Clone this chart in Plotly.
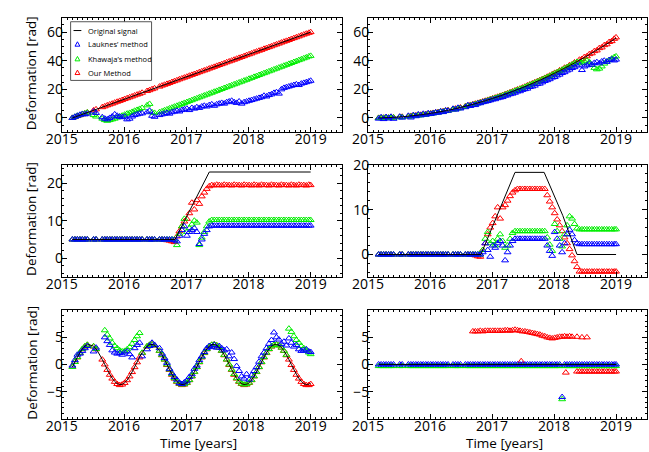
import plotly.graph_objects as go

FONT = "Open Sans"
BLUE = "#0000ff"
GREEN = "#00ee00"
RED = "#ff0000"
W, H = 649, 452

# acquisition epochs (decimal years)
epochs = [
    2015.17, 2015.21, 2015.25, 2015.29, 2015.33, 2015.37, 2015.41, 2015.51, 2015.55,
    2015.65, 2015.69, 2015.73, 2015.77, 2015.81, 2015.85, 2015.89, 2015.93, 2015.97,
    2016.01, 2016.05, 2016.09, 2016.13, 2016.17, 2016.21, 2016.25, 2016.29,
    2016.37, 2016.41, 2016.45, 2016.49,
    2016.57, 2016.61, 2016.65, 2016.69, 2016.73, 2016.77, 2016.81, 2016.85, 2016.89, 2016.93, 2016.97,
    2017.01, 2017.05, 2017.09, 2017.13, 2017.17, 2017.21, 2017.25, 2017.29, 2017.33, 2017.37,
    2017.41, 2017.45, 2017.49, 2017.53, 2017.57, 2017.61, 2017.65, 2017.69, 2017.73, 2017.77,
    2017.81, 2017.85, 2017.89, 2017.93, 2017.97,
    2018.01, 2018.05, 2018.09, 2018.13, 2018.17, 2018.21, 2018.25, 2018.29, 2018.33, 2018.37,
    2018.41, 2018.45, 2018.49, 2018.53, 2018.57, 2018.61, 2018.65, 2018.69, 2018.73, 2018.77,
    2018.81, 2018.85, 2018.89, 2018.93, 2018.97, 2019.00,
]

# ---- panel 1: linear deformation ----
p1_signal_t = [2015.17, 2019.0]
p1_signal = [0.0, 60.0]
p1_ours = [
    0.0, 0.6, 1.3, 1.9, 2.5, 3.1, 3.8, 5.3, 6.0,
    7.5, 8.1, 8.8, 9.4, 10.0, 10.7, 11.3, 11.9, 12.5, 13.2, 13.8, 14.4, 15.0, 15.7, 16.3, 16.9, 17.6,
    18.8, 19.4, 20.1, 20.7,
    21.9, 22.6, 23.2, 23.8, 24.4, 25.1, 25.7, 26.3, 27.0, 27.6, 28.2,
    28.8, 29.5, 30.1, 30.7, 31.3, 32.0, 32.6, 33.2, 33.8, 34.5, 35.1, 35.7, 36.4, 37.0, 37.6,
    38.2, 38.9, 39.5, 40.1, 40.7, 41.4, 42.0, 42.6, 43.2, 43.9,
    44.5, 45.1, 45.8, 46.4, 47.0, 47.6, 48.3, 48.9, 49.5, 50.1, 50.8, 51.4, 52.0, 52.7, 53.3,
    53.9, 54.5, 55.2, 55.8, 56.4, 57.0, 57.7, 58.3, 58.9, 59.5, 60.0,
]
p1_khawaja = [
    0.0, 0.8, 1.5, 2.0, 2.6, 3.2, 3.8, 2.0, 1.0,
    -0.5, -1.5, -2.0, -1.5, -1.0, -0.5, 0.3, 1.0, 1.6, 2.3, 3.0, 3.5, 4.2, 5.0, 5.6, 6.3, 7.0,
    8.8, 9.8, 4.0, 3.5,
    4.0, 4.6, 5.3, 5.9, 6.6, 7.2, 7.9, 8.5, 9.2, 9.8, 10.5,
    11.1, 11.8, 12.4, 13.1, 13.7, 14.4, 15.0, 15.7, 16.3, 17.0, 17.6, 18.3, 18.9, 19.6, 20.2,
    20.9, 21.5, 22.2, 22.8, 23.5, 24.1, 24.8, 25.4, 26.1, 26.7,
    27.4, 28.0, 28.7, 29.3, 30.0, 30.6, 31.3, 31.9, 32.6, 33.2, 33.9, 34.5, 35.2, 35.8, 36.5,
    37.1, 37.8, 38.4, 39.1, 39.7, 40.4, 41.0, 41.7, 42.3, 43.0, 43.4,
]
p1_lauknes = [
    0.0, 0.8, 1.5, 2.2, 2.8, 2.5, 3.0, 4.5, 3.5,
    0.5, -0.5, -1.0, 0.0, 1.0, 2.5, 1.5, 0.8, 0.5, 1.0, -1.0, -0.5, 1.0, 2.0, 2.5, 3.0, 3.2,
    4.0, 5.0, 1.5, 0.8,
    2.0, 2.5, 3.0, 3.5, 3.0, 4.0, 4.5, 5.0, 4.5, 5.5, 6.0,
    6.5, 5.5, 7.0, 6.5, 7.5, 7.0, 8.0, 8.5, 8.0, 9.0, 9.5, 8.5, 9.5, 10.0, 10.5,
    10.0, 11.0, 11.5, 12.0, 11.0, 10.5, 11.5, 10.0, 11.0, 11.5,
    12.0, 12.5, 13.0, 13.5, 14.0, 14.5, 15.5, 15.0, 16.0, 16.5, 17.5, 18.0, 17.0, 20.0, 21.0,
    21.5, 22.0, 22.5, 23.0, 23.5, 23.0, 24.0, 24.5, 25.0, 25.5, 26.0,
]

# ---- panel 2: accelerating deformation ----
p2_signal = [
    0.0, 0.0, 0.1, 0.2, 0.2, 0.3, 0.4, 0.7, 0.8,
    1.2, 1.4, 1.6, 1.8, 2.0, 2.2, 2.4, 2.7, 2.9, 3.2, 3.5, 3.8, 4.1, 4.4, 4.7, 5.1, 5.4,
    6.1, 6.5, 6.9, 7.3,
    8.2, 8.6, 9.1, 9.5, 10.0, 10.5, 11.0, 11.5, 12.0, 12.6, 13.1,
    13.7, 14.2, 14.8, 15.4, 16.0, 16.6, 17.2, 17.9, 18.5, 19.2, 19.9, 20.5, 21.2, 21.9, 22.7,
    23.4, 24.1, 24.9, 25.6, 26.4, 27.2, 28.0, 28.8, 29.6, 30.5,
    31.3, 32.2, 33.0, 33.9, 34.8, 35.7, 36.6, 37.5, 38.5, 39.4, 40.4, 41.4, 42.3, 43.3, 44.3,
    45.4, 46.4, 47.4, 48.5, 49.5, 50.6, 51.7, 52.8, 53.9, 55.0, 55.9,
]
p2_ours = [
    0.0, 0.0, 0.1, 0.2, 0.2, 0.3, 0.4, 0.7, 0.8,
    1.2, 1.4, 1.6, 1.8, 2.0, 2.2, 2.4, 2.7, 2.9, 3.2, 3.5, 3.8, 4.1, 4.4, 4.7, 5.1, 5.4,
    6.1, 6.5, 6.9, 7.3,
    8.2, 8.6, 9.1, 9.5, 10.0, 10.5, 11.0, 11.5, 12.0, 12.6, 13.1,
    13.7, 14.2, 14.8, 15.4, 16.0, 16.6, 17.2, 17.9, 18.5, 19.2, 19.9, 20.5, 21.2, 21.9, 22.7,
    23.4, 24.1, 24.9, 25.6, 26.4, 27.2, 28.0, 28.8, 29.6, 30.5,
    31.5, 32.0, 33.3, 33.7, 35.1, 35.5, 36.9, 37.3, 38.8, 39.2, 40.7, 41.2, 42.6, 43.1, 44.6,
    45.2, 46.7, 47.2, 48.8, 49.3, 50.9, 51.5, 53.1, 53.7, 55.3, 56.3,
]
p2_khawaja = [
    0.0, -0.2, 0.1, -0.1, 0.2, 0.0, 0.3, 0.4, 0.6,
    0.9, 1.1, 1.3, 1.5, 1.7, 1.9, 2.1, 2.4, 2.6, 2.9, 3.2, 3.5, 3.8, 4.1, 4.4, 4.8, 5.1,
    5.8, 6.2, 6.6, 7.0,
    7.9, 8.3, 8.8, 9.2, 9.7, 10.2, 10.7, 11.2, 11.7, 12.3, 12.8,
    13.4, 13.9, 14.5, 15.1, 15.7, 16.3, 16.9, 17.6, 18.2, 18.9, 19.6, 20.2, 20.9, 21.6, 22.4,
    23.1, 23.8, 24.6, 25.3, 26.1, 26.9, 27.7, 28.5, 29.3, 30.2,
    31.0, 31.9, 32.7, 33.6, 34.5, 35.4, 36.3, 37.2, 38.2, 39.1, 39.0, 38.5, 39.5, 40.0, 39.0,
    37.0, 35.0, 34.0, 34.5, 36.0, 38.0, 39.5, 40.5, 41.5, 42.5, 43.0,
]
p2_lauknes = [
    -0.5, 0.5, -0.8, 0.6, -0.4, 0.8, -0.6, 0.9, 0.2,
    1.5, 0.3, 2.0, 1.2, 2.5, 1.8, 2.9, 2.2, 3.3, 2.8, 3.2, 3.9, 3.6, 4.6, 4.1, 5.2, 5.0,
    6.4, 5.8, 7.1, 6.6,
    7.5, 8.9, 8.4, 9.2, 9.0, 10.1, 10.3, 11.0, 11.4, 11.8, 12.3,
    12.9, 13.1, 13.8, 14.2, 14.6, 15.5, 15.8, 16.6, 17.0, 17.6, 18.5, 18.7, 19.6, 20.1, 20.5,
    21.6, 22.0, 22.6, 23.7, 24.0, 24.9, 25.8, 26.4, 27.1, 28.2,
    28.6, 29.7, 30.3, 31.4, 32.0, 33.1, 33.8, 34.9, 35.5, 36.6, 37.3, 33.5, 36.0, 36.8, 38.0,
    37.2, 38.5, 39.0, 38.2, 39.5, 40.0, 39.2, 40.5, 41.0, 40.2, 40.8,
]

# ---- panel 3: step-like uplift ----
p3_signal_t = [2015.17, 2016.82, 2017.37, 2019.0]
p3_signal = [5.0, 5.0, 23.0, 23.0]
p3_ours = [
    5.0, 5.0, 5.0, 5.0, 5.0, 5.0, 5.0, 5.0, 5.0,
    5.0, 5.0, 5.0, 5.0, 5.0, 5.0, 5.0, 5.0, 5.0, 5.0, 5.0, 5.0, 5.0, 5.0, 5.0, 5.0, 5.0,
    5.0, 5.0, 5.0, 5.0,
    5.0, 5.0, 4.9, 4.8, 4.7, 4.5, 4.3, 5.8, 7.2, 8.5, 9.8,
    10.5, 12.0, 14.8, 13.0, 15.5, 14.5, 16.5, 17.5, 18.5, 19.2, 19.5, 19.4, 19.6, 19.5, 19.4,
    19.6, 19.5, 19.5, 19.4, 19.6, 19.5, 19.5, 19.4, 19.6, 19.5,
    19.5, 19.4, 19.6, 19.5, 19.4, 19.6, 19.5, 19.5, 19.4, 19.6, 19.5, 19.5, 19.4, 19.6, 19.5,
    19.5, 19.4, 19.6, 19.5, 19.4, 19.6, 19.5, 19.5, 19.4, 19.6, 19.5,
]
p3_khawaja = [
    5.0, 5.0, 5.0, 5.0, 5.0, 5.0, 5.0, 5.0, 5.0,
    5.0, 5.0, 5.0, 5.0, 5.0, 5.0, 5.0, 5.0, 5.0, 5.0, 5.0, 5.0, 5.0, 5.0, 5.0, 5.0, 5.0,
    5.0, 5.0, 5.0, 5.0,
    5.0, 5.0, 5.0, 5.0, 5.0, 5.0, 5.0, 3.5, 6.5, 8.5, 10.5,
    7.0, 8.0, 9.0, 10.0, 9.5, 3.5, 5.5, 7.0, 8.5, 9.8, 10.2, 10.2, 10.2, 10.2, 10.2,
    10.2, 10.2, 10.2, 10.2, 10.2, 10.2, 10.2, 10.2, 10.2, 10.2,
    10.2, 10.2, 10.2, 10.2, 10.2, 10.2, 10.2, 10.2, 10.2, 10.2, 10.2, 10.2, 10.2, 10.2, 10.2,
    10.2, 10.2, 10.2, 10.2, 10.2, 10.2, 10.2, 10.2, 10.2, 10.2, 10.2,
]
p3_lauknes = [
    5.0, 5.0, 5.0, 5.0, 5.0, 5.0, 5.0, 5.0, 5.0,
    5.0, 5.0, 5.0, 5.0, 5.0, 5.0, 5.0, 5.0, 5.0, 5.0, 5.0, 5.0, 5.0, 5.0, 5.0, 5.0, 5.0,
    5.0, 5.0, 5.0, 5.0,
    5.0, 5.0, 5.0, 5.0, 5.0, 5.0, 4.8, 4.5, 6.0, 7.5, 8.5,
    6.0, 7.0, 7.5, 8.0, 7.0, 3.8, 5.0, 6.5, 7.5, 8.5, 8.7, 8.7, 8.7, 8.7, 8.7,
    8.7, 8.7, 8.7, 8.7, 8.7, 8.7, 8.7, 8.7, 8.7, 8.7,
    8.7, 8.7, 8.7, 8.7, 8.7, 8.7, 8.7, 8.7, 8.7, 8.7, 8.7, 8.7, 8.7, 8.7, 8.7,
    8.7, 8.7, 8.7, 8.7, 8.7, 8.7, 8.7, 8.7, 8.7, 8.7, 8.7,
]

# ---- panel 4: uplift followed by subsidence ----
p4_signal_t = [2015.17, 2016.82, 2017.37, 2017.84, 2018.14, 2018.37, 2019.0]
p4_signal = [0.0, 0.0, 18.3, 18.3, 8.7, 0.0, 0.0]
p4_ours = [
    0.0, 0.0, 0.0, 0.0, 0.0, 0.0, 0.0, 0.0, 0.0,
    0.0, 0.0, 0.0, 0.0, 0.0, 0.0, 0.0, 0.0, 0.0, 0.0, 0.0, 0.0, 0.0, 0.0, 0.0, 0.0, 0.0,
    0.0, 0.0, 0.0, 0.0,
    0.0, 0.0, 0.0, 0.0, -0.2, -0.4, -0.5, 1.0, 2.5, 4.5, 6.0,
    7.0, 8.5, 10.5, 8.0, 10.5, 11.0, 12.0, 13.0, 13.8, 14.3, 14.6, 14.6, 14.6, 14.6, 14.6,
    14.6, 14.6, 14.6, 14.6, 14.6, 14.6, 14.6, 13.2, 11.8, 10.5,
    9.2, 7.8, 6.5, 5.2, 3.8, 2.5, 1.2, -0.2, -1.5, -2.8, -3.8, -3.8, -3.8, -3.8, -3.8,
    -3.8, -3.8, -3.8, -3.8, -3.8, -3.8, -3.8, -3.8, -3.8, -3.8, -3.8,
]
p4_khawaja = [
    0.0, 0.0, 0.0, 0.0, 0.0, 0.0, 0.0, 0.0, 0.0,
    0.0, 0.0, 0.0, 0.0, 0.0, 0.0, 0.0, 0.0, 0.0, 0.0, 0.0, 0.0, 0.0, 0.0, 0.0, 0.0, 0.0,
    0.0, 0.0, 0.0, 0.0,
    0.0, 0.0, 0.0, 0.0, 0.0, 0.0, 0.0, 1.0, 3.5, 5.0, 2.5,
    3.0, 2.0, 3.5, 4.5, 3.0, 1.5, 2.0, 3.5, 4.8, 5.2, 5.2, 5.2, 5.2, 5.2, 5.2,
    5.2, 5.2, 5.2, 5.2, 5.2, 5.2, 5.2, 3.8, 2.2, 0.8,
    6.8, 5.2, 3.5, 1.8, 4.5, 6.5, 8.5, 8.0, 6.8, 5.8, 5.6, 5.6, 5.6, 5.6, 5.6,
    5.6, 5.6, 5.6, 5.6, 5.6, 5.6, 5.6, 5.6, 5.6, 5.6, 5.6,
]
p4_lauknes = [
    0.0, 0.0, 0.0, 0.0, 0.0, 0.0, 0.0, 0.0, 0.0,
    0.0, 0.0, 0.0, 0.0, 0.0, 0.0, 0.0, 0.0, 0.0, 0.0, 0.0, 0.0, 0.0, 0.0, 0.0, 0.0, 0.0,
    0.0, 0.0, 0.0, 0.0,
    0.0, 0.0, 0.0, 0.0, 0.0, 0.0, 0.0, 0.5, 2.5, 1.0, -0.5,
    2.0, 1.5, 2.5, 3.0, 2.0, -1.3, 0.5, 2.0, 3.0, 3.5, 3.5, 3.5, 3.5, 3.5, 3.5,
    3.5, 3.5, 3.5, 3.5, 3.5, 3.5, 3.5, 2.0, 0.8, -0.3,
    5.0, 3.5, 2.0, 0.5, 2.5, 4.5, 5.5, 4.5, 3.2, 2.5, 2.3, 2.3, 2.3, 2.3, 2.3,
    2.3, 2.3, 2.3, 2.3, 2.3, 2.3, 2.3, 2.3, 2.3, 2.3, 2.3,
]

# ---- panel 5: seasonal deformation ----
p5_signal = [
    -0.46, 0.46, 1.36, 2.17, 2.85, 3.35, 3.63, 3.35, 2.85,
    0.92, 0.0, -0.92, -1.78, -2.53, -3.12, -3.52, -3.69, -3.63, -3.35, -2.85, -2.17, -1.36, -0.46,
    0.46, 1.36, 2.17,
    3.35, 3.63, 3.69, 3.52,
    2.53, 1.78, 0.92, 0.0, -0.92, -1.78, -2.53, -3.12, -3.52, -3.69, -3.63,
    -3.35, -2.85, -2.17, -1.36, -0.46, 0.46, 1.36, 2.17, 2.85, 3.35, 3.63, 3.69, 3.52, 3.12, 2.53,
    1.78, 0.92, 0.0, -0.92, -1.78, -2.53, -3.12, -3.52, -3.69, -3.63,
    -3.35, -2.85, -2.17, -1.36, -0.46, 0.46, 1.36, 2.17, 2.85, 3.35, 3.63, 3.69, 3.52, 3.12, 2.53,
    1.78, 0.92, 0.0, -0.92, -1.78, -2.53, -3.12, -3.52, -3.69, -3.63, -3.44,
]
p5_ours = [
    -0.4, 0.5, 1.3, 2.1, 2.8, 3.3, 3.6, 3.3, 2.8,
    0.9, 0.0, -1.0, -1.9, -2.6, -3.2, -3.6, -3.8, -3.7, -3.4, -2.9, -2.2, -1.4, -0.5,
    0.4, 1.3, 2.1,
    3.3, 3.6, 3.7, 3.5,
    2.5, 1.7, 0.9, -0.1, -1.0, -1.9, -2.6, -3.2, -3.6, -3.8, -3.7,
    -3.4, -2.9, -2.2, -1.4, -0.5, 0.4, 1.3, 2.1, 2.8, 3.3, 3.6, 3.7, 3.5, 3.1, 2.5,
    1.7, 0.9, -0.1, -1.0, -1.9, -2.6, -3.2, -3.6, -3.8, -3.7,
    -3.4, -2.9, -2.2, -1.4, -0.5, 0.4, 1.3, 2.1, 2.8, 3.3, 3.6, 3.7, 3.5, 3.1, 2.5,
    1.7, 0.9, -0.1, -1.0, -1.9, -2.6, -3.2, -3.6, -3.8, -3.8, -3.6,
]
p5_khawaja = [
    -0.46, 0.46, 1.36, 2.17, 2.85, 3.35, 3.63, 3.35, 2.85,
    None, 6.3, 5.5, 4.8, 4.0, 3.4, 3.0, 2.6, 2.4, 2.5, 2.8, 3.2, 3.8, 4.5,
    5.2, 5.8, 2.17,
    3.35, 3.63, 3.69, 3.52,
    2.53, 1.78, 0.92, 0.0, -0.92, -1.78, -2.53, -3.12, -3.52, -3.69, -3.63,
    -3.35, -2.85, -2.17, -1.36, -0.46, 0.46, 1.36, 2.17, 2.85, 3.35, 3.63, 3.69, 3.52, 3.12, 2.53,
    1.78, 0.92, 0.0, -0.92, -1.78, -2.53, -3.12, -3.52, -3.69, -3.63,
    -3.35, -2.85, -2.17, -1.36, -0.46, 0.46, 1.36, 2.17, 2.85, 3.35, 3.63, 3.69, 3.52, 3.12, 2.53,
    1.78, 6.6, 6.0, 5.2, 4.5, 4.0, 3.4, 3.0, 2.6, 2.2, 1.9,
]
p5_lauknes = [
    -0.2, 0.8, 1.8, 2.0, 2.5, 3.0, 3.4, 2.4, 3.1,
    None, 5.0, 4.3, 3.6, 2.6, 2.2, 2.0, 2.1, 1.8, 2.2, 2.4, 1.9, 1.3, 3.0,
    3.6, 4.0, 1.5,
    2.8, 3.4, 4.0, 3.6,
    3.0, 2.0, 1.2, 0.3, -0.8, -1.6, -2.3, -2.8, -3.4, -3.6, -3.3,
    -3.0, -2.3, -1.8, -0.8, -0.2, 0.8, 1.5, 2.3, 3.0, 3.4, 3.2, 3.6, 3.1, 3.4, 3.0,
    2.6, 2.8, 1.5, 2.2, 1.0, -0.3, -1.2, -2.2, -2.6, -1.8,
    -2.8, -2.0, -1.2, -0.5, 0.5, 1.5, 2.2, 3.0, 3.8, 4.5, 5.9, 5.0, 4.6, 3.8, 4.2,
    3.5, 4.8, 4.0, 3.3, 3.6, 2.8, 2.5, 2.6, 2.8, 2.4, 2.3,
]

# ---- panel 6: stable point ----
p6_signal_t = [2015.17, 2019.0]
p6_signal = [0.0, 0.0]
p6_ours_t = [
    2016.69, 2016.73, 2016.77, 2016.81, 2016.85, 2016.89, 2016.93, 2016.97, 2017.01, 2017.05,
    2017.09, 2017.13, 2017.17, 2017.21, 2017.25, 2017.29, 2017.33, 2017.37, 2017.41, 2017.45,
    2017.49, 2017.53, 2017.57, 2017.61, 2017.65, 2017.69, 2017.73, 2017.77, 2017.81, 2017.85,
    2017.89, 2017.93, 2017.97, 2018.01, 2018.05, 2018.09, 2018.13, 2018.17, 2018.21, 2018.25,
    2018.29, 2018.37, 2018.45, 2018.53,
    2017.47, 2018.19,
    2018.37, 2018.41, 2018.45, 2018.49, 2018.53, 2018.57, 2018.61, 2018.65, 2018.69, 2018.73,
    2018.77, 2018.81, 2018.85, 2018.89, 2018.93, 2018.97, 2019.00,
]
p6_ours = [
    6.1, 6.1, 6.1, 6.2, 6.1, 6.2, 6.2, 6.2, 6.2, 6.2,
    6.2, 6.2, 6.2, 6.3, 6.3, 6.2, 6.3, 6.4, 6.3, 6.2,
    6.1, 6.1, 6.0, 5.9, 5.8, 5.7, 5.6, 5.5, 5.3, 5.2,
    5.0, 4.9, 4.8, 4.9, 5.0, 5.1, 5.1, 5.2, 5.1, 5.2,
    5.1, 5.1, 5.0, 5.0,
    0.6, -1.5,
    -1.3, -1.3, -1.3, -1.3, -1.3, -1.3, -1.3, -1.3, -1.3, -1.3,
    -1.3, -1.3, -1.3, -1.3, -1.3, -1.3, -1.3,
]
p6_khawaja = [
    -0.3, -0.3, -0.3, -0.3, -0.3, -0.3, -0.3, -0.3, -0.3,
    -0.3, -0.3, -0.3, -0.3, -0.3, -0.3, -0.3, -0.3, -0.3, -0.3, -0.3, -0.3, -0.3, -0.3,
    -0.3, -0.3, -0.3,
    -0.3, -0.3, -0.3, -0.3,
    -0.3, -0.3, -0.3, -0.3, -0.3, -0.3, -0.3, -0.3, -0.3, -0.3, -0.3,
    -0.3, -0.3, -0.3, -0.3, -0.3, -0.3, -0.3, -0.3, -0.3, -0.3, -0.3, -0.3, -0.3, -0.3, -0.3,
    -0.3, -0.3, -0.3, -0.3, -0.3, -0.3, -0.3, -0.3, -0.3, -0.3,
    -0.3, -0.3, -0.3, -6.4, -0.3, -0.3, -0.3, -0.3, -0.3, -0.3, -0.3, -0.3, -0.3, -0.3, -0.3,
    -0.3, -0.3, -0.3, -0.3, -0.3, -0.3, -0.3, -0.3, -0.3, -0.3, -0.3,
]
p6_lauknes = [
    0.0, 0.0, 0.0, 0.0, 0.0, 0.0, 0.0, 0.0, 0.0,
    0.0, 0.0, 0.0, 0.0, 0.0, 0.0, 0.0, 0.0, 0.0, 0.0, 0.0, 0.0, 0.0, 0.0,
    0.0, 0.0, 0.0,
    0.0, 0.0, 0.0, 0.0,
    0.0, 0.0, 0.0, 0.0, 0.0, 0.0, 0.0, 0.0, 0.0, 0.0, 0.0,
    0.0, 0.0, 0.0, 0.0, 0.0, 0.0, 0.0, 0.0, 0.0, 0.0, 0.0, 0.0, 0.0, 0.0, 0.0,
    0.0, 0.0, 0.0, 0.0, 0.0, 0.0, 0.0, 0.0, 0.0, 0.0,
    0.0, 0.0, 0.0, -6.0, 0.0, 0.0, 0.0, 0.0, 0.0, 0.0, 0.0, 0.0, 0.0, 0.0, 0.0,
    0.0, 0.0, 0.0, 0.0, 0.0, 0.0, 0.0, 0.0, 0.0, 0.0, 0.0,
]

legend_labels = ["Original signal", "Lauknes\u2019 method", "Khawaja\u2019s method", "Our Method"]
legend_colors = ["black", BLUE, GREEN, RED]

panels = [
    dict(sig_t=p1_signal_t, sig=p1_signal, ours_t=epochs, ours=p1_ours,
         kh=p1_khawaja, la=p1_lauknes, shape="linear"),
    dict(sig_t=epochs, sig=p2_signal, ours_t=epochs, ours=p2_ours,
         kh=p2_khawaja, la=p2_lauknes, shape="spline"),
    dict(sig_t=p3_signal_t, sig=p3_signal, ours_t=epochs, ours=p3_ours,
         kh=p3_khawaja, la=p3_lauknes, shape="linear"),
    dict(sig_t=p4_signal_t, sig=p4_signal, ours_t=epochs, ours=p4_ours,
         kh=p4_khawaja, la=p4_lauknes, shape="linear"),
    dict(sig_t=epochs, sig=p5_signal, ours_t=epochs, ours=p5_ours,
         kh=p5_khawaja, la=p5_lauknes, shape="spline"),
    dict(sig_t=p6_signal_t, sig=p6_signal, ours_t=p6_ours_t, ours=p6_ours,
         kh=p6_khawaja, la=p6_lauknes, shape="linear"),
]

y_ranges = [[-10, 70], [-10, 70], [-5, 25], [-5, 20.05], [-10, 10], [-10, 10]]
y_ticks = [[0, 20, 40, 60], [0, 20, 40, 60], [0, 10, 20], [0, 10, 20], [-5, 0, 5], [-5, 0, 5]]
y_minor = [5, 5, 2, 2, 1, 1]

# subplot frames in pixels: (left, right) columns, (top, bottom) rows
col_px = [(47, 334), (361, 647)]
row_px = [(8, 125), (158, 273), (307, 418)]
col_dom = [[l / W, r / W] for l, r in col_px]
row_dom = [[1 - b / H, 1 - t / H] for t, b in row_px]


def tri(color):
    return dict(symbol="triangle-up-open", size=6, color=color, line=dict(width=1, color=color))


fig = go.Figure()
for i, p in enumerate(panels):
    k = i + 1
    xa = "x" if k == 1 else f"x{k}"
    ya = "y" if k == 1 else f"y{k}"
    fig.add_trace(go.Scatter(x=p["ours_t"], y=p["ours"], mode="markers", name=legend_labels[3],
                             marker=tri(RED), xaxis=xa, yaxis=ya))
    fig.add_trace(go.Scatter(x=epochs, y=p["kh"], mode="markers", name=legend_labels[2],
                             marker=tri(GREEN), xaxis=xa, yaxis=ya))
    fig.add_trace(go.Scatter(x=epochs, y=p["la"], mode="markers", name=legend_labels[1],
                             marker=tri(BLUE), xaxis=xa, yaxis=ya))
    fig.add_trace(go.Scatter(x=p["sig_t"], y=p["sig"], mode="lines", name=legend_labels[0],
                             line=dict(color="black", width=1, shape=p["shape"]),
                             xaxis=xa, yaxis=ya))

axis_common = dict(
    showline=True, linecolor="black", linewidth=1, mirror="allticks",
    ticks="inside", ticklen=5, tickwidth=1, tickcolor="black",
    showgrid=False, zeroline=False,
    tickfont=dict(family=FONT, size=14, color="black"),
)

layout = dict(
    width=W, height=H,
    margin=dict(l=0, r=0, t=0, b=0),
    paper_bgcolor="white", plot_bgcolor="white",
    font=dict(family=FONT, color="black"),
    showlegend=False,
)

for i in range(6):
    k = i + 1
    row, col = divmod(i, 2)
    xname = "xaxis" if k == 1 else f"xaxis{k}"
    yname = "yaxis" if k == 1 else f"yaxis{k}"
    layout[xname] = dict(axis_common, domain=col_dom[col], range=[2015, 2019.5], dtick=1, tick0=2015,
                         anchor="y" if k == 1 else f"y{k}", ticklabelstandoff=-6,
                         minor=dict(ticks="inside", ticklen=2, tickcolor="black",
                                    dtick=1 / 12, tick0=2015))
    layout[yname] = dict(axis_common, domain=row_dom[row], range=y_ranges[i],
                         tickmode="array", tickvals=y_ticks[i],
                         anchor="x" if k == 1 else f"x{k}", ticklabelstandoff=-5,
                         minor=dict(ticks="inside", ticklen=2, tickcolor="black",
                                    dtick=y_minor[i], tick0=0))

fig.update_layout(**layout)


def px(x):
    return x / W


def py(y):
    return 1 - y / H


# axis titles
for (l, r) in col_px:
    fig.add_annotation(xref="paper", yref="paper", x=px((l + r) / 2 - 3), y=py(443),
                       xanchor="center", yanchor="middle", text="Time [years]", showarrow=False,
                       font=dict(family=FONT, size=13.5, color="black"))
for (t, b) in row_px:
    fig.add_annotation(xref="paper", yref="paper", x=px(15.5), y=py((t + b) / 2 - 2),
                       xanchor="center", yanchor="middle", text="Deformation [rad]",
                       textangle=-90, showarrow=False,
                       font=dict(family=FONT, size=13.5, color="black"))

# legend box drawn in the first panel
box = (56, 12, 139, 72)
fig.add_shape(type="rect", xref="paper", yref="paper",
              x0=px(box[0]), y0=py(box[3]), x1=px(box[2]), y1=py(box[1]),
              line=dict(color="#555555", width=1), fillcolor="white", layer="above")
entry_y = [21, 35, 50, 64]
sym_x = 63
for label, color, yy in zip(legend_labels, legend_colors, entry_y):
    if color == "black":
        fig.add_shape(type="line", xref="paper", yref="paper",
                      x0=px(sym_x - 4), x1=px(sym_x + 4), y0=py(yy), y1=py(yy),
                      line=dict(color="black", width=1), layer="above")
    else:
        path = (f"M {px(sym_x - 2.5)} {py(yy + 2)} L {px(sym_x + 2.5)} {py(yy + 2)} "
                f"L {px(sym_x)} {py(yy - 2.5)} Z")
        fig.add_shape(type="path", xref="paper", yref="paper", path=path,
                      line=dict(color=color, width=1), layer="above")
    fig.add_annotation(xref="paper", yref="paper", x=px(72), y=py(yy), xanchor="left",
                       yanchor="middle", text=label, showarrow=False,
                       font=dict(family=FONT, size=7.5, color="black"))

fig.write_html("out.html")
